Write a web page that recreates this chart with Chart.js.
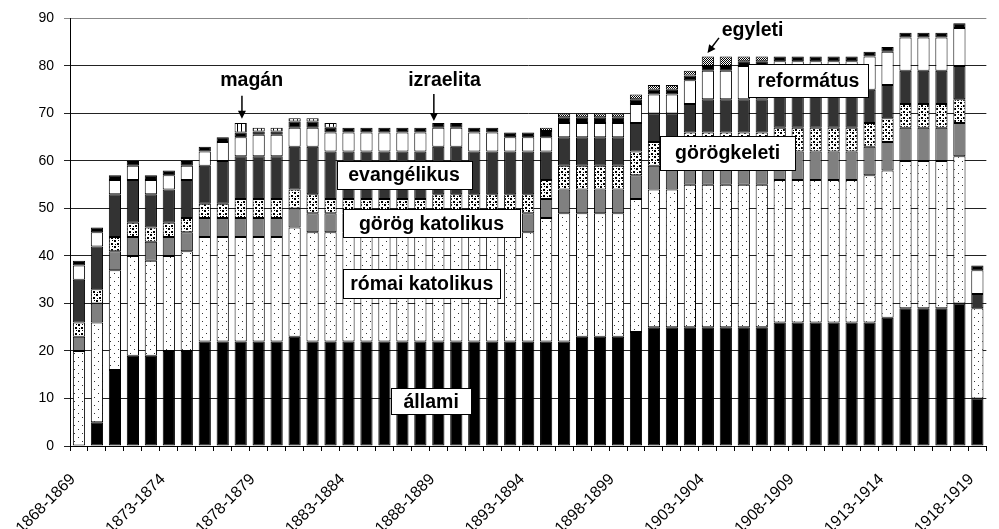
<!DOCTYPE html>
<html>
<head>
<meta charset="utf-8">
<script src="https://cdn.jsdelivr.net/npm/chart.js@4.4.1/dist/chart.umd.min.js"></script>
<style>
  html, body { margin: 0; padding: 0; background: #fff; overflow: hidden; }
</style>
</head>
<body>
<canvas id="iskolak" width="1010" height="529"></canvas>
<script>
// tanevek (kategoriak)
var tanevek = [
  '1868-1869', '1869-1870', '1870-1871', '1871-1872', '1872-1873',
  '1873-1874', '1874-1875', '1875-1876', '1876-1877', '1877-1878',
  '1878-1879', '1879-1880', '1880-1881', '1881-1882', '1882-1883',
  '1883-1884', '1884-1885', '1885-1886', '1886-1887', '1887-1888',
  '1888-1889', '1889-1890', '1890-1891', '1891-1892', '1892-1893',
  '1893-1894', '1894-1895', '1895-1896', '1896-1897', '1897-1898',
  '1898-1899', '1899-1900', '1900-1901', '1901-1902', '1902-1903',
  '1903-1904', '1904-1905', '1905-1906', '1906-1907', '1907-1908',
  '1908-1909', '1909-1910', '1910-1911', '1911-1912', '1912-1913',
  '1913-1914', '1914-1915', '1915-1916', '1916-1917', '1917-1918',
  '1918-1919'
];
// csak ezek latszanak a tengelyen
var kiirtEvek = ['1868-1869', '1873-1874', '1878-1879', '1883-1884', '1888-1889',
  '1893-1894', '1898-1899', '1903-1904', '1908-1909', '1913-1914', '1918-1919'];

var allami = [null, 5, 16, 19, 19, 20, 20, 22, 22, 22, 22, 22, 23, 22, 22, 22, 22,
  22, 22, 22, 22, 22, 22, 22, 22, 22, 22, 22, 23, 23, 23, 24, 25, 25, 25, 25, 25,
  25, 25, 26, 26, 26, 26, 26, 26, 27, 29, 29, 29, 30, 10];
var romaiKatolikus = [20, 21, 21, 21, 20, 20, 21, 22, 22, 22, 22, 22, 23, 23, 23,
  23, 23, 23, 23, 23, 23, 23, 23, 23, 23, 23, 26, 27, 26, 26, 26, 28, 29, 29, 30,
  30, 30, 30, 30, 30, 30, 30, 30, 30, 31, 31, 31, 31, 31, 31, 19];
var gorogKatolikus = [3, 4, 4, 4, 4, 4, 4, 4, 4, 4, 4, 4, 4, 4, 4, 4, 4, 4, 4, 4,
  4, 4, 4, 4, 4, 4, 4, 5, 5, 5, 5, 5, 5, 5, 5, 5, 5, 5, 5, 6, 6, 6, 6, 6, 6, 6, 7,
  7, 7, 7, null];
var gorogkeleti = [3, 3, 3, 3, 3, 3, 3, 3, 3, 4, 4, 4, 4, 4, 3, 3, 3, 3, 3, 3, 4,
  4, 4, 4, 4, 4, 4, 5, 5, 5, 5, 5, 5, 5, 6, 6, 6, 6, 6, 5, 5, 5, 5, 5, 5, 5, 5, 5,
  5, 5, null];
var evangelikus = [9, 9, 9, 9, 7, 7, 8, 8, 9, 9, 9, 9, 9, 10, 10, 10, 10, 10, 10,
  10, 10, 10, 9, 9, 9, 9, 6, 6, 6, 6, 6, 6, 6, 6, 6, 7, 7, 7, 7, 7, 7, 7, 7, 7, 7,
  7, 7, 7, 7, 7, 3];
var reformatus = [3, 3, 3, 3, 3, 3, 3, 3, 4, 4, 4.5, 4.5, 4, 4, 4, 4, 4, 4, 4, 4,
  4, 4, 4, 4, 3, 3, 3, 3, 3, 3, 3, 4, 4, 4, 5, 6, 6, 7, 7, 7, 7, 7, 7, 7, 7, 7, 7,
  7, 7, 8, 5];
var izraelita = [1, 1, 1, 1, 1, 1, 1, 1, 1, 1, 0.7, 0.7, 1.3, 1.3, 1, 1, 1, 1, 1,
  1, 1, 1, 1, 1, 1, 1, 1.3, 1.2, 1.2, 1.2, 1.2, 1, 1, 1, 1, 1, 1, 1, 1, 1, 1, 1, 1,
  1, 1, 1, 1, 1, 1, 1, 1];
var magan = [null, null, null, null, null, null, null, null, null, 2, 0.8, 0.8, 0.7,
  0.7, 1, null, null, null, null, null, null, null, null, null, null, null, null,
  null, null, null, null, null, null, null, null, null, null, null, null, null,
  null, null, null, null, null, null, null, null, null, null, null];
var egyleti = [null, null, null, null, null, null, null, null, null, null, null,
  null, null, null, null, null, null, null, null, null, null, null, null, null,
  null, null, 0.7, 0.8, 0.8, 0.8, 0.8, 1, 1, 1, 1, 2, 2, 1, 1, null, null, null,
  null, null, null, null, null, null, null, null, null];

var betu = "'Liberation Sans', Arial, sans-serif";

// feliratok a diagramon (x: tanev indexe, y: ertek)
var dobozok = [
  { szoveg: 'evangélikus', x: 18.09, y: 57.1, w: 135, h: 28 },
  { szoveg: 'görög katolikus', x: 19.62, y: 46.9, w: 177, h: 28 },
  { szoveg: 'római katolikus', x: 19.08, y: 34.2, w: 157, h: 29 },
  { szoveg: 'állami', x: 19.6, y: 9.4, w: 80, h: 26 },
  { szoveg: 'görögkeleti', x: 36.1, y: 61.7, w: 135, h: 34 },
  { szoveg: 'református', x: 40.6, y: 76.9, w: 120, h: 33 }
];
var szabadFeliratok = [
  { szoveg: 'magán', x: 9.61, y: 76.8 },
  { szoveg: 'izraelita', x: 20.34, y: 76.8 },
  { szoveg: 'egyleti', x: 37.49, y: 87.5 }
];
var nyilak = [
  { x1: 9.07, y1: 73.7, x2: 9.07, y2: 68.9 },
  { x1: 19.75, y1: 74.1, x2: 19.75, y2: 68.4 },
  { x1: 35.62, y1: 85.9, x2: 34.98, y2: 82.7 }
];

var ctx = document.getElementById('iskolak').getContext('2d');

function minta(w, h, rajz) {
  var c = document.createElement('canvas');
  c.width = w;
  c.height = h;
  var g = c.getContext('2d');
  g.fillStyle = '#fff';
  g.fillRect(0, 0, w, h);
  g.fillStyle = '#000';
  rajz(g);
  return ctx.createPattern(c, 'repeat');
}

var pottyos = minta(8, 8, function (g) {
  g.fillStyle = '#333';
  g.fillRect(2, 1, 1, 1);
  g.fillRect(6, 5, 1, 1);
});
var foltos = minta(6, 6, function (g) {
  g.fillRect(0, 0, 2, 2);
  g.fillRect(3, 3, 2, 2);
  g.fillRect(4, 0, 1, 1);
  g.fillRect(1, 4, 1, 1);
});
var csikos = minta(4, 1, function (g) {
  g.fillRect(1, 0, 1, 1);
});
var racsos = minta(2, 2, function (g) {
  g.fillRect(0, 0, 1, 1);
  g.fillRect(1, 1, 1, 1);
});

function sor(nev, adat, szin) {
  return {
    label: nev,
    data: adat,
    backgroundColor: szin,
    borderColor: '#000',
    borderWidth: 1,
    borderSkipped: false,
    categoryPercentage: 1,
    barPercentage: 0.68
  };
}

var feliratPlugin = {
  id: 'feliratok',
  afterDatasetsDraw: function (chart) {
    var c = chart.ctx;
    var xs = chart.scales.x;
    var ys = chart.scales.y;
    c.save();
    c.font = 'bold 19.5px ' + betu;
    c.textAlign = 'center';
    c.textBaseline = 'middle';
    dobozok.forEach(function (d) {
      var px = xs.getPixelForValue(d.x);
      var py = ys.getPixelForValue(d.y);
      var bx = Math.round(px - d.w / 2) + 0.5;
      var by = Math.round(py - d.h / 2) + 0.5;
      c.fillStyle = '#fff';
      c.fillRect(bx, by, d.w, d.h);
      c.strokeStyle = '#000';
      c.lineWidth = 1;
      c.strokeRect(bx, by, d.w, d.h);
      c.fillStyle = '#000';
      c.fillText(d.szoveg, px, py + 1);
    });
    szabadFeliratok.forEach(function (d) {
      c.fillStyle = '#000';
      c.fillText(d.szoveg, xs.getPixelForValue(d.x), ys.getPixelForValue(d.y));
    });
    nyilak.forEach(function (n) {
      var x1 = xs.getPixelForValue(n.x1), y1 = ys.getPixelForValue(n.y1);
      var x2 = xs.getPixelForValue(n.x2), y2 = ys.getPixelForValue(n.y2);
      var szog = Math.atan2(y2 - y1, x2 - x1);
      c.strokeStyle = '#000';
      c.lineWidth = 1.5;
      c.beginPath();
      c.moveTo(x1, y1);
      c.lineTo(x2 - 6 * Math.cos(szog), y2 - 6 * Math.sin(szog));
      c.stroke();
      c.fillStyle = '#000';
      c.beginPath();
      c.moveTo(x2, y2);
      c.lineTo(x2 - 8 * Math.cos(szog) + 4 * Math.sin(szog), y2 - 8 * Math.sin(szog) - 4 * Math.cos(szog));
      c.lineTo(x2 - 8 * Math.cos(szog) - 4 * Math.sin(szog), y2 - 8 * Math.sin(szog) + 4 * Math.cos(szog));
      c.closePath();
      c.fill();
    });
    c.restore();
  }
};

var iskolaChart = new Chart(ctx, {
  type: 'bar',
  data: {
    labels: tanevek,
    datasets: [
      sor('állami', allami, '#000'),
      sor('római katolikus', romaiKatolikus, pottyos),
      sor('görög katolikus', gorogKatolikus, '#808080'),
      sor('görögkeleti', gorogkeleti, foltos),
      sor('evangélikus', evangelikus, '#333333'),
      sor('református', reformatus, '#fff'),
      sor('izraelita', izraelita, '#000'),
      sor('magán', magan, csikos),
      sor('egyleti', egyleti, racsos)
    ]
  },
  options: {
    responsive: false,
    animation: false,
    devicePixelRatio: 1,
    layout: { padding: { top: 17, right: 5, left: 0, bottom: 0 } },
    plugins: {
      legend: { display: false },
      tooltip: { enabled: false }
    },
    scales: {
      x: {
        stacked: true,
        grid: { display: true, drawOnChartArea: false, offset: true, color: '#000', tickLength: 5 },
        border: { color: '#000' },
        ticks: {
          autoSkip: false,
          minRotation: 45,
          maxRotation: 45,
          labelOffset: -6,
          padding: 19,
          color: '#000',
          font: { family: betu, size: 16 },
          callback: function (v, i) {
            var t = tanevek[i];
            return kiirtEvek.indexOf(t) >= 0 ? t : '';
          }
        },
        afterFit: function (s) { s.height = 83; }
      },
      y: {
        stacked: true,
        min: 0,
        max: 90,
        ticks: {
          stepSize: 10,
          padding: 10,
          color: '#000',
          font: { family: betu, size: 14 }
        },
        grid: {
          color: function (c) { return c.tick && c.tick.value === 90 ? '#888' : '#222'; },
          tickLength: 6
        },
        border: { color: '#000' },
        afterFit: function (s) { s.width = 70; }
      }
    }
  },
  plugins: [feliratPlugin]
});
</script>
</body>
</html>
